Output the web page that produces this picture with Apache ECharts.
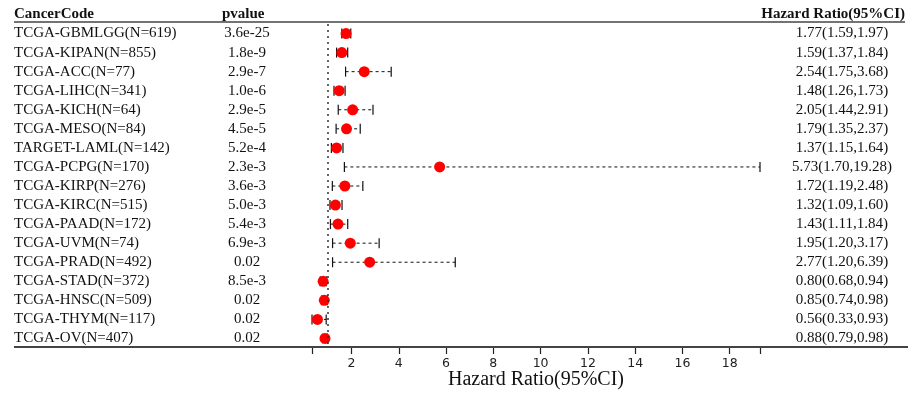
<!DOCTYPE html>
<html>
<head>
<meta charset="utf-8">
<script src="https://cdn.jsdelivr.net/npm/echarts@6/dist/echarts.min.js"></script>
<style>html,body{margin:0;padding:0;background:#fff}#c{width:914px;height:393px}</style>
</head>
<body>
<div id="c"></div>
<script>
const cancerCodes = ["TCGA-GBMLGG(N=619)","TCGA-KIPAN(N=855)","TCGA-ACC(N=77)","TCGA-LIHC(N=341)","TCGA-KICH(N=64)","TCGA-MESO(N=84)","TARGET-LAML(N=142)","TCGA-PCPG(N=170)","TCGA-KIRP(N=276)","TCGA-KIRC(N=515)","TCGA-PAAD(N=172)","TCGA-UVM(N=74)","TCGA-PRAD(N=492)","TCGA-STAD(N=372)","TCGA-HNSC(N=509)","TCGA-THYM(N=117)","TCGA-OV(N=407)"];
const pvalues = ["3.6e-25","1.8e-9","2.9e-7","1.0e-6","2.9e-5","4.5e-5","5.2e-4","2.3e-3","3.6e-3","5.0e-3","5.4e-3","6.9e-3","0.02","8.5e-3","0.02","0.02","0.02"];
const hr    = [1.77,1.59,2.54,1.48,2.05,1.79,1.37,5.73,1.72,1.32,1.43,1.95,2.77,0.80,0.85,0.56,0.88];
const lower = [1.59,1.37,1.75,1.26,1.44,1.35,1.15,1.70,1.19,1.09,1.11,1.20,1.20,0.68,0.74,0.33,0.79];
const upper = [1.97,1.84,3.68,1.73,2.91,2.37,1.64,19.28,2.48,1.60,1.84,3.17,6.39,0.94,0.98,0.93,0.98];
const xTickLabels = [2,4,6,8,10,12,14,16,18];
const refValue = 1;

const xMin = Math.min(...lower), xMax = Math.max(...upper);
const hrText = hr.map((v,i)=>v.toFixed(2)+"("+lower[i].toFixed(2)+","+upper[i].toFixed(2)+")");
const serif = "'Liberation Serif','Times New Roman',serif";

const chart = echarts.init(document.getElementById('c'), null, {renderer:'canvas'});
const yLabelBase = {interval:0, fontFamily:serif, fontSize:15, color:'#111', padding:[3,0,0,0]};
chart.setOption({
  animation:false,
  grid:{left:312,right:154,top:24,bottom:45},
  xAxis:{
    type:'value', min:xMin, max:xMax,
    axisLine:{show:false},
    splitLine:{show:false},
    axisTick:{show:true, length:6, customValues:[xMin].concat(xTickLabels,[xMax]), lineStyle:{color:'#222',width:1.2}},
    axisLabel:{customValues:xTickLabels, fontFamily:"'DejaVu Sans',sans-serif", fontSize:12.5, color:'#222', margin:9}
  },
  yAxis:[
    {type:'category', data:cancerCodes, inverse:true, position:'left',
     axisLine:{show:false}, axisTick:{show:false}, splitLine:{show:false},
     axisLabel:Object.assign({}, yLabelBase, {align:'left', margin:298})},
    {type:'category', data:cancerCodes, inverse:true, position:'left',
     axisLine:{show:false}, axisTick:{show:false}, splitLine:{show:false},
     axisLabel:Object.assign({}, yLabelBase, {align:'center', margin:65, formatter:(v,i)=>pvalues[i]})},
    {type:'category', data:cancerCodes, inverse:true, position:'right',
     axisLine:{show:false}, axisTick:{show:false}, splitLine:{show:false},
     axisLabel:Object.assign({}, yLabelBase, {align:'center', margin:82, formatter:(v,i)=>hrText[i]})}
  ],
  series:[
    {type:'custom', yAxisIndex:0, z:2,
     data: cancerCodes.map((c,i)=>[i, lower[i], upper[i]]),
     encode:{y:0, x:[1,2]},
     renderItem:(params, api)=>{
       const y = api.value(0);
       const a = api.coord([api.value(1), y]);
       const b = api.coord([api.value(2), y]);
       const h = 5;
       const st = {stroke:'#111', lineWidth:1.2};
       return {type:'group', children:[
         {type:'line', shape:{x1:a[0],y1:a[1],x2:b[0],y2:b[1]}, style:{stroke:'#111',lineWidth:1,lineDash:[3,3]}},
         {type:'line', shape:{x1:a[0],y1:a[1]-h,x2:a[0],y2:a[1]+h}, style:st},
         {type:'line', shape:{x1:b[0],y1:b[1]-h,x2:b[0],y2:b[1]+h}, style:st}
       ]};
     }},
    {type:'scatter', yAxisIndex:0, z:3, symbol:'circle', symbolSize:11,
     itemStyle:{color:'#ff0000', opacity:1},
     data: hr.map((v,i)=>[v, i]),
     markLine:{silent:true, symbol:'none', label:{show:false},
       lineStyle:{color:'#333', type:[2,4], width:1.5},
       data:[{xAxis:refValue}]}}
  ],
  graphic:[
    {type:'line', shape:{x1:14,y1:22,x2:905,y2:22}, style:{stroke:'#444',lineWidth:1.5}},
    {type:'line', shape:{x1:14,y1:347,x2:908,y2:347}, style:{stroke:'#444',lineWidth:1.8}},
    {type:'text', left:14, top:7, style:{text:'CancerCode', font:"bold 15px "+serif, fill:'#111'}},
    {type:'text', left:222, top:7, style:{text:'pvalue', font:"bold 15px "+serif, fill:'#111'}},
    {type:'text', right:9, top:7, style:{text:'Hazard Ratio(95%CI)', font:"bold 15px "+serif, fill:'#111'}},
    {type:'text', x:536, y:380, style:{text:'Hazard Ratio(95%CI)', font:"20px "+serif, fill:'#111', align:'center', verticalAlign:'middle'}}
  ]
});
</script>
</body>
</html>
